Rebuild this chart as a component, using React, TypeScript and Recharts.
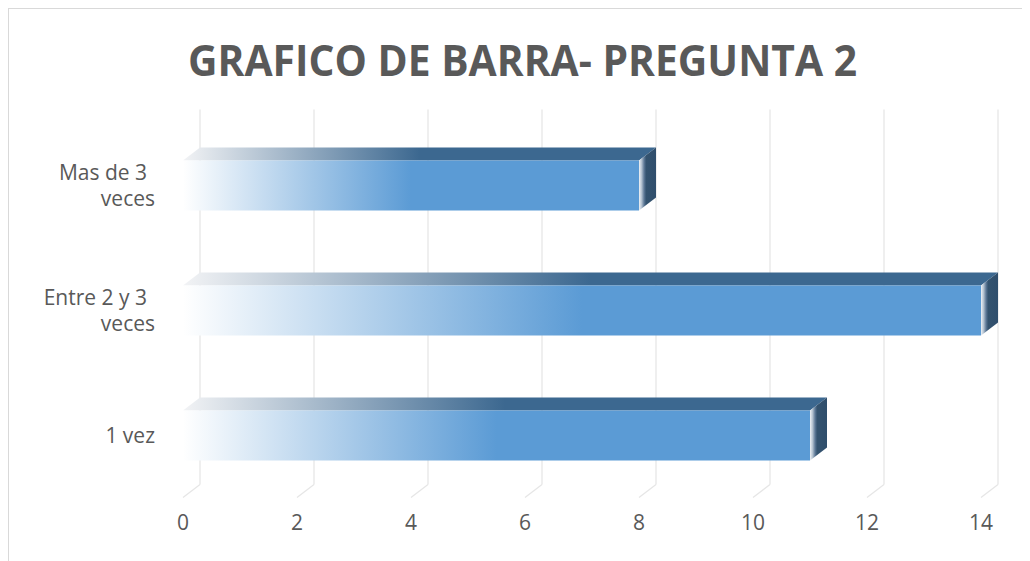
import React from "react";
import { Bar, BarChart, CartesianGrid, XAxis, YAxis } from "recharts";

const categories = ["Mas de 3 veces", "Entre 2 y 3 veces", "1 vez"];
const values = [8, 14, 11];
const xTicks = [0, 2, 4, 6, 8, 10, 12, 14];
const title = "GRAFICO DE BARRA- PREGUNTA 2";

const data = categories.map((name, i) => ({ name, value: values[i] }));

const DEPTH_X = 17;
const DEPTH_Y = 13;
const TEXT = "#595959";
const GRID = "#e6e6e6";
const FONT = "'Open Sans', 'Noto Sans', sans-serif";

// excel-like wrap of category labels
function wrap(label: string, max = 11) {
  const lines: string[] = [];
  let cur = "";
  for (const w of label.split(" ")) {
    const next = cur ? cur + " " + w : w;
    if (next.length > max && cur) {
      lines.push(cur);
      cur = w;
    } else cur = next;
  }
  if (cur) lines.push(cur);
  return lines;
}

function CategoryTick({ x, y, payload }: any) {
  const lines = wrap(String(payload.value));
  return (
    <g>
      {lines.map((line, i) => (
        <text
          key={i}
          // wrapped lines keep excel's trailing space
          x={x - 26 + (i < lines.length - 1 ? -8 : 0)}
          y={y + 8 + (i - (lines.length - 1) / 2) * 26}
          textAnchor="end"
          fill={TEXT}
          fontSize={21}
          fontFamily={FONT}
        >
          {line}
        </text>
      ))}
    </g>
  );
}

function ValueTick({ x, y, payload }: any) {
  return (
    <text
      x={x}
      y={y + 30.5}
      textAnchor="middle"
      fill={TEXT}
      fontSize={21}
      fontFamily={FONT}
    >
      {payload.value}
    </text>
  );
}

// back wall line + floor diagonal
function GridLine(props: any) {
  const { x1, y1, y2 } = props;
  return (
    <g key={props.key ?? `${x1}`}>
      <line
        x1={x1 + DEPTH_X}
        y1={y1 - DEPTH_Y}
        x2={x1 + DEPTH_X}
        y2={y2 - DEPTH_Y}
        stroke={GRID}
        strokeWidth={1.3}
      />
      <line
        x1={x1 + DEPTH_X}
        y1={y2 - DEPTH_Y}
        x2={x1}
        y2={y2}
        stroke={GRID}
        strokeWidth={1.3}
      />
    </g>
  );
}

function Bar3D({ x, y, width, height }: any) {
  if (!width) return null;
  const r = x + width;
  const top = `${x},${y} ${x + DEPTH_X},${y - DEPTH_Y} ${r + DEPTH_X},${y - DEPTH_Y} ${r},${y}`;
  const side = `${r},${y} ${r + DEPTH_X},${y - DEPTH_Y} ${r + DEPTH_X},${y + height - DEPTH_Y} ${r},${y + height}`;
  return (
    <g>
      <polygon points={top} fill="url(#barTop)" />
      <rect x={x} y={y} width={width} height={height} fill="url(#barFront)" />
      <polygon points={side} fill="url(#barSide)" />
    </g>
  );
}

export default function App() {
  return (
    <div
      style={{
        position: "relative",
        width: 1021,
        height: 552,
        borderTop: "1.5px solid #d9d9d9",
        borderLeft: "1.5px solid #d9d9d9",
        background: "#fff",
      }}
    >
      <style>{"html,body{overflow:hidden}"}</style>
      <BarChart
        width={1021}
        height={552}
        data={data}
        layout="vertical"
        margin={{ top: 113.5, right: 49, bottom: 23.5, left: 0 }}
        barSize={50}
      >
        <defs>
          <linearGradient id="barFront" x1="0" y1="0" x2="1" y2="0">
            <stop offset="0%" stopColor="#ffffff" />
            <stop offset="50%" stopColor="#5b9bd5" />
            <stop offset="100%" stopColor="#5b9bd5" />
          </linearGradient>
          <linearGradient id="barTop" x1="0" y1="0" x2="1" y2="0">
            <stop offset="0%" stopColor="#f2f3f5" />
            <stop offset="50%" stopColor="#3c6890" />
            <stop offset="100%" stopColor="#3c6890" />
          </linearGradient>
          <linearGradient id="barSide" x1="0" y1="0" x2="1" y2="0">
            <stop offset="0%" stopColor="#eef2f6" />
            <stop offset="15%" stopColor="#b4c2d0" />
            <stop offset="30%" stopColor="#5d7896" />
            <stop offset="42%" stopColor="#34536f" />
            <stop offset="100%" stopColor="#2f4e6c" />
          </linearGradient>
        </defs>
        <CartesianGrid horizontal={false} vertical={GridLine} />
        <XAxis
          type="number"
          domain={[0, 14]}
          ticks={xTicks}
          axisLine={false}
          tickLine={false}
          tickSize={0}
          height={40}
          tick={ValueTick}
          interval={0}
        />
        <YAxis
          type="category"
          dataKey="name"
          width={174}
          axisLine={false}
          tickLine={false}
          tickSize={0}
          tick={CategoryTick}
          interval={0}
        />
        <Bar dataKey="value" shape={Bar3D} isAnimationActive={false} />
      </BarChart>
      <svg
        width={1021}
        height={552}
        style={{ position: "absolute", left: 0, top: 0, pointerEvents: "none" }}
      >
        <text
          x={513.5}
          y={67}
          textAnchor="middle"
          fill={TEXT}
          fontSize={43}
          fontWeight="bold"
          fontFamily={FONT}
          textLength={669}
          lengthAdjust="spacingAndGlyphs"
        >
          {title}
        </text>
      </svg>
    </div>
  );
}
